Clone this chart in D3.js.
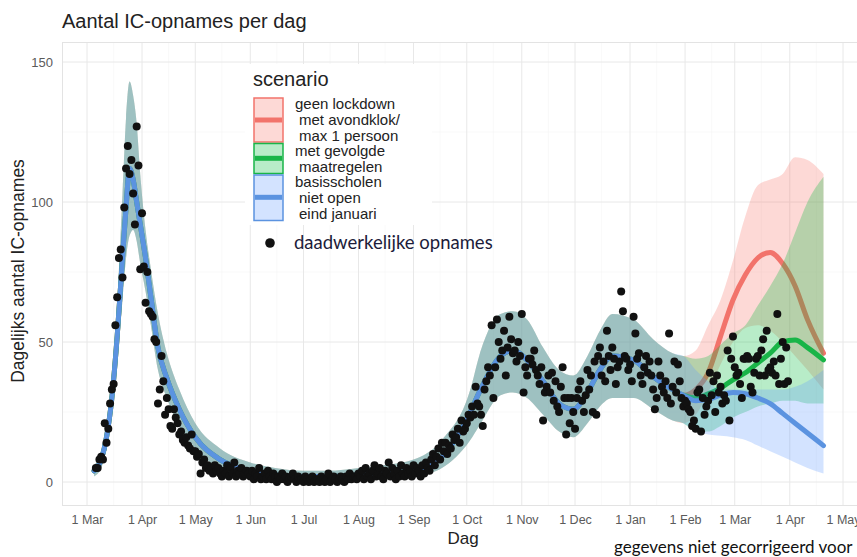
<!DOCTYPE html>
<html><head><meta charset="utf-8">
<script src="https://cdn.jsdelivr.net/npm/d3@7"></script>
<style>body{margin:0;background:#fff}svg{display:block}</style>
</head><body>
<svg id="c" width="857" height="557"></svg>
<script>
// ---------- data ----------
const tickDates = ["2020-03-01","2020-04-01","2020-05-01","2020-06-01","2020-07-01","2020-08-01","2020-09-01","2020-10-01","2020-11-01","2020-12-01","2021-01-01","2021-02-01","2021-03-01","2021-04-01","2021-05-01"];
const tickLabels = ["1 Mar","1 Apr","1 May","1 Jun","1 Jul","1 Aug","1 Sep","1 Oct","1 Nov","1 Dec","1 Jan","1 Feb","1 Mar","1 Apr","1 May"];
const yTicks = [0, 50, 100, 150];

// common model fit (all scenarios identical before February 2021)
const fitDates = ["2020-03-05","2020-03-09","2020-03-12","2020-03-15","2020-03-18","2020-03-21","2020-03-23","2020-03-25","2020-03-27","2020-03-29","2020-03-31","2020-04-03","2020-04-06","2020-04-10","2020-04-15","2020-04-22","2020-05-01","2020-05-15","2020-06-01","2020-06-15","2020-07-01","2020-07-15","2020-08-01","2020-08-15","2020-09-01","2020-09-17","2020-10-03","2020-10-08","2020-10-20","2020-10-27","2020-11-04","2020-11-13","2020-11-22","2020-11-30","2020-12-08","2020-12-15","2020-12-22","2021-01-03","2021-01-14","2021-01-25"];
const fitMid = [4,8,16,30,52,80,98,112,108,100,92,80,66,48,37,26,16,8,4,2.5,2,2,2.5,3,4,9,25,32,45,47,43.5,36,28,26,32,40,45,43.5,37.6,33];
const fitLo  = [2,5,12,24,42,65,80,88,90,86,78,68,56,40,30,20,12,5,2,1,0.5,0.5,1,1.5,2,5,15,20,31,32,30,24,18,16,21,27,30,30,26,22];
const fitHi  = [6,11,20,38,64,103,130,143,138,128,110,90,76,60,46,33,21,12,7,5,4,4,5,6,8,15,33,45,60,61,58,48,40,38,45,54,60,58,51,46];

// scenario projections
const scenDates = ["2021-01-31","2021-02-07","2021-02-14","2021-02-21","2021-02-28","2021-03-07","2021-03-14","2021-03-21","2021-03-28","2021-04-04","2021-04-11","2021-04-20"];
const redMid   = [31,33,39,52,65,74,80,82,78,70,58,46];
const redLo    = [21,24,32,42,50,55,56,54,50,45,40,33];
const redHi    = [45,47,56,65,79,95,106,108,110,116,115,110];
const greenMid = [31,30,31.5,33.5,36.5,39,42.5,46,50,50.7,48,43.6];
const greenLo  = [21,18,18,20,23,25,27,28,29,29,28,28];
const greenHi  = [45,44,45,49,53,56,63,70,78,89,100,109];
const blueMid  = [31,29,29.5,31,32,31.5,30,28,24.5,21,17.5,13];
const blueLo   = [21,18,17,16.5,16,15,13,11,9,7,5,3];
const blueHi   = [45,40,36,33,33,33,33,33,33,34,36,40];

const scenarioNames = ["geen lockdown|met avondklok/|max 1 persoon","met gevolgde|maatregelen","basisscholen|niet open|eind januari"];

// daily observed admissions from 2020-03-06
const obsStart = "2020-03-06";
const obsValues = [
5,5,8,9,8,21,14,19,28,33,35,56,66,80,83,73,98,112,120,110,115,103,92,127,
113,76,96,77,64,75,61,60,59,51,50,28,33,45,36,24,30,26,20,19,26,23,21,17,18,15,14,16,13,12,17,11,
11,9,10,3,7,8,5,6,4,5,3,6,4,5,3,2,4,3,6,2,5,3,7,2,4,3,5,2,3,4,
3,2,4,1,3,2,5,1,2,3,1,4,2,1,3,2,0,2,1,3,1,2,0,1,2,3,1,0,2,1,
1,0,2,1,0,1,2,0,1,1,0,2,1,0,1,3,0,1,2,1,0,1,2,1,0,2,1,3,1,2,
2,1,3,2,4,1,5,2,3,1,4,6,2,3,5,2,1,4,3,7,2,5,3,1,4,2,6,3,2,5,
3,4,2,6,3,5,4,2,6,3,7,5,4,8,10,6,9,12,8,14,11,14,10,13,12,17,15,16,19,14,22,18,19,21,24,
23,27,24,34,28,27,24,20,33,36,
41,38,56,30,41,58,50,44,47,54,
38,48,59,51,46,47,43,50,45,60,
32,41,38,44,44,42,47,40,38,35,
41,22,32,34,38,32,39,29,36,27,
25,34,41,30,17,30,21,30,25,19,
30,33,36,29,25,31,40,33,38,25,
43,24,45,48,38,43,36,54,45,40,
48,44,35,41,43,68,61,45,44,40,
42,36,59,53,44,46,38,35,41,45,
39,43,38,33,26,30,43,38,34,32,
36,30,53,28,34,43,32,42,36,30,
27,29,28,26,25,20,22,19,32,33,
18,30,24,27,29,39,31,36,25,38,
32,34,28,31,29,47,22,44,52,41,
38,39,35,30,44,44,45,44,34,32,
39,44,45,38,47,51,38,54,40,41,
39,43,38,60,35,44,50,35,48,36];

// ---------- drawing ----------
const parse = d3.timeParse("%Y-%m-%d");
const svg = d3.select("#c");
const P = {l:62, r:862, t:42, b:505};

const x = d3.scaleTime().domain([parse("2020-03-01"), parse("2021-05-01")]).range([87, 843]);
const y = d3.scaleLinear().domain([0,150]).range([482, 62]);

const colors = ["#F8766D","#00BA38","#619CFF"];
const lineColors = ["#F2736B","#19B548","#5B93E0"];
const bandAlpha = 0.28;

svg.append("defs").append("clipPath").attr("id","clip")
  .append("rect").attr("x",P.l).attr("y",P.t).attr("width",P.r-P.l).attr("height",P.b-P.t);

// minor grid
const minorX = tickDates.slice(0,-1).map(d => d3.timeDay.offset(parse(d), 15));
const gMinor = svg.append("g").attr("clip-path","url(#clip)");
gMinor.selectAll("line.vx").data(minorX).join("line")
  .attr("x1",d=>x(d)).attr("x2",d=>x(d)).attr("y1",P.t).attr("y2",P.b)
  .attr("stroke","#f5f5f5").attr("stroke-width",0.6);
gMinor.selectAll("line.hy").data([25,75,125]).join("line")
  .attr("x1",P.l).attr("x2",P.r).attr("y1",d=>y(d)).attr("y2",d=>y(d))
  .attr("stroke","#f5f5f5").attr("stroke-width",0.6);

// major grid
const g = svg.append("g").attr("clip-path","url(#clip)");
g.selectAll("line.gx").data(tickDates).join("line")
  .attr("x1",d=>x(parse(d))).attr("x2",d=>x(parse(d))).attr("y1",P.t).attr("y2",P.b)
  .attr("stroke","#e8e8e8").attr("stroke-width",1);
g.selectAll("line.gy").data(yTicks).join("line")
  .attr("x1",P.l).attr("x2",P.r).attr("y1",d=>y(d)).attr("y2",d=>y(d))
  .attr("stroke","#e8e8e8").attr("stroke-width",1);

svg.append("rect").attr("x",P.l+0.5).attr("y",P.t+0.5).attr("width",P.r-P.l).attr("height",P.b-P.t)
  .attr("fill","none").attr("stroke","#e3e3e3").attr("stroke-width",1);

// series
function build(mid, lo, hi){
  const a = fitDates.map((d,i)=>({date:parse(d), mid:fitMid[i], lo:fitLo[i], hi:fitHi[i]}));
  const b = scenDates.map((d,i)=>({date:parse(d), mid:mid[i], lo:lo[i], hi:hi[i]}));
  return a.concat(b);
}
const series = [build(redMid,redLo,redHi), build(greenMid,greenLo,greenHi), build(blueMid,blueLo,blueHi)];

const area = d3.area().x(d=>x(d.date)).y0(d=>y(d.lo)).y1(d=>y(d.hi)).curve(d3.curveMonotoneX);
const line = d3.line().x(d=>x(d.date)).y(d=>y(d.mid)).curve(d3.curveMonotoneX);

const gm = svg.append("g").attr("clip-path","url(#clip)");
series.forEach((s,i)=>{
  gm.append("path").datum(s).attr("d",area).attr("fill",colors[i]).attr("fill-opacity",bandAlpha);
  gm.append("path").datum(s).attr("d",line).attr("fill","none").attr("stroke",lineColors[i])
    .attr("stroke-width",5).attr("stroke-linejoin","round").attr("stroke-linecap","round");
});

// observed points
const obs = obsValues.map((v,i)=>({date:d3.timeDay.offset(parse(obsStart), i), v}));
gm.selectAll("circle.o").data(obs).join("circle")
  .attr("cx",d=>x(d.date)).attr("cy",d=>y(d.v)).attr("r",4).attr("fill","#111");

// axes
const ff = "Liberation Sans, Arial, sans-serif";
const xAxis = d3.axisBottom(x).tickValues(tickDates.map(parse)).tickFormat((d,i)=>tickLabels[i]).tickSize(0).tickPadding(8);
const gx = svg.append("g").attr("transform",`translate(0,${P.b+2})`).call(xAxis);
gx.select(".domain").remove();
gx.selectAll("text").attr("font-family",ff).attr("font-size",12.5).attr("fill","#5a5a5a");

const yAxis = d3.axisLeft(y).tickValues(yTicks).tickSize(0).tickPadding(7);
const gy = svg.append("g").attr("transform",`translate(${P.l-2},0)`).call(yAxis);
gy.select(".domain").remove();
gy.selectAll("text").attr("font-family",ff).attr("font-size",13).attr("fill","#5a5a5a");

svg.append("text").attr("x",62).attr("y",28).attr("font-family",ff).attr("font-size",20).attr("fill","#222")
  .text("Aantal IC-opnames per dag");
svg.append("text").attr("transform","translate(24,271) rotate(-90)").attr("text-anchor","middle")
  .attr("font-family",ff).attr("font-size",17.5).attr("fill","#222").text("Dagelijks aantal IC-opnames");
svg.append("text").attr("x",463).attr("y",544).attr("text-anchor","middle")
  .attr("font-family",ff).attr("font-size",17).attr("fill","#222").text("Dag");
svg.append("text").attr("x",614).attr("y",553)
  .attr("font-family","Lato, 'Open Sans', sans-serif").attr("font-size",17).attr("fill","#111")
  .text("gegevens niet gecorrigeerd voor");

// legend
const lg = svg.append("g");
lg.append("rect").attr("x",245).attr("y",64).attr("width",187).attr("height",161).attr("fill","#fff");
lg.append("text").attr("x",253).attr("y",86).attr("font-family",ff).attr("font-size",20).attr("fill","#222").text("scenario");
const keyBoxes = [[98,142,120],[143.5,173.5,158.3],[175,220.5,197.3]];
const labelBase = [109,156,187];
scenarioNames.forEach((nm,i)=>{
  const [y0,y1,ym] = keyBoxes[i];
  lg.append("rect").attr("x",254).attr("y",y0).attr("width",29).attr("height",y1-y0)
    .attr("fill",colors[i]).attr("fill-opacity",bandAlpha).attr("stroke",lineColors[i]).attr("stroke-width",1.5);
  lg.append("line").attr("x1",255).attr("x2",282).attr("y1",ym).attr("y2",ym)
    .attr("stroke",lineColors[i]).attr("stroke-width",5);
  nm.split("|").forEach((t,j)=>{
    lg.append("text").attr("x", j===0 ? 295 : 299).attr("y", labelBase[i] + j*16)
      .attr("font-family",ff).attr("font-size",15).attr("fill","#222").text(t);
  });
});
lg.append("circle").attr("cx",270).attr("cy",243).attr("r",4.8).attr("fill","#111");
lg.append("text").attr("x",294).attr("y",249).attr("font-family","Lato, 'Open Sans', sans-serif")
  .attr("font-size",18.5).attr("fill","#1c1c3a").text("daadwerkelijke opnames");
</script>
</body></html>
